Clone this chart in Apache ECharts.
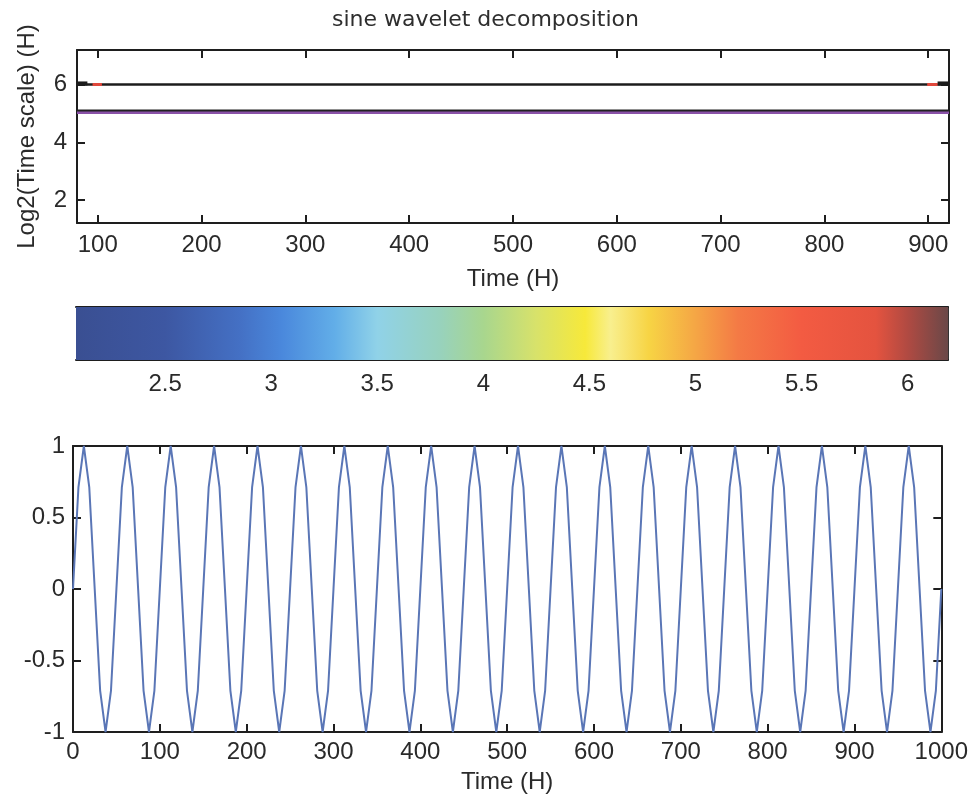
<!DOCTYPE html>
<html>
<head>
<meta charset="utf-8">
<script src="https://cdn.jsdelivr.net/npm/echarts@6/dist/echarts.min.js"></script>
<style>
html,body{margin:0;padding:0;background:#fff;}
#chart{width:971px;height:804px;}
</style>
</head>
<body>
<div id="chart"></div>
<script>
// ---------- data ----------
// top panel: wavelet decomposition ridges (time, log2 scale)
const ridgeTime = [80, 920];
const ridgeScaleHigh = [6.0, 6.0];
const ridgeScaleEdge = [5.1, 5.1];
const ridgeScaleLow = [5.03, 5.03];
const redTimeLeft = [95, 104];
const redTimeRight = [899, 909];
const redScale = [6.0, 6.0];
const darkTimeLeft = [80, 90];
const darkTimeRight = [909, 920];
const darkScale = [6.04, 6.04];
const topXTicks = [100, 200, 300, 400, 500, 600, 700, 800, 900];
const topYTicks = [2, 4, 6];

// colour bar
const cbarRange = [2.08, 6.19];
const cbarTicks = [2.5, 3, 3.5, 4, 4.5, 5, 5.5, 6];
const cbarStopValues = [2.08, 2.5, 2.85, 3.05, 3.3, 3.5, 3.8, 4.0, 4.25, 4.48, 4.6, 4.78, 5.0, 5.2, 5.5, 5.85, 6.0, 6.19];
const cbarStopColors = ['#3a4f92', '#3d57a2', '#4470c4', '#4a88dc', '#62aee8', '#90d2e8', '#98d2bc', '#a8d68e', '#d8e26a', '#f7e93a', '#f8ef8e', '#f7d444', '#f5a645', '#f47a45', '#f35b42', '#e4533f', '#b04a42', '#6a4848'];

// bottom panel: sine signal (time, amplitude)
const sineTime = [
0,6.25,12.5,18.75,25,31.25,37.5,43.75,
50,56.25,62.5,68.75,75,81.25,87.5,93.75,
100,106.25,112.5,118.75,125,131.25,137.5,143.75,
150,156.25,162.5,168.75,175,181.25,187.5,193.75,
200,206.25,212.5,218.75,225,231.25,237.5,243.75,
250,256.25,262.5,268.75,275,281.25,287.5,293.75,
300,306.25,312.5,318.75,325,331.25,337.5,343.75,
350,356.25,362.5,368.75,375,381.25,387.5,393.75,
400,406.25,412.5,418.75,425,431.25,437.5,443.75,
450,456.25,462.5,468.75,475,481.25,487.5,493.75,
500,506.25,512.5,518.75,525,531.25,537.5,543.75,
550,556.25,562.5,568.75,575,581.25,587.5,593.75,
600,606.25,612.5,618.75,625,631.25,637.5,643.75,
650,656.25,662.5,668.75,675,681.25,687.5,693.75,
700,706.25,712.5,718.75,725,731.25,737.5,743.75,
750,756.25,762.5,768.75,775,781.25,787.5,793.75,
800,806.25,812.5,818.75,825,831.25,837.5,843.75,
850,856.25,862.5,868.75,875,881.25,887.5,893.75,
900,906.25,912.5,918.75,925,931.25,937.5,943.75,
950,956.25,962.5,968.75,975,981.25,987.5,993.75,
1000];
const sineValue = [
0,0.71,1,0.71,0,-0.71,-1,-0.71,
0,0.71,1,0.71,0,-0.71,-1,-0.71,
0,0.71,1,0.71,0,-0.71,-1,-0.71,
0,0.71,1,0.71,0,-0.71,-1,-0.71,
0,0.71,1,0.71,0,-0.71,-1,-0.71,
0,0.71,1,0.71,0,-0.71,-1,-0.71,
0,0.71,1,0.71,0,-0.71,-1,-0.71,
0,0.71,1,0.71,0,-0.71,-1,-0.71,
0,0.71,1,0.71,0,-0.71,-1,-0.71,
0,0.71,1,0.71,0,-0.71,-1,-0.71,
0,0.71,1,0.71,0,-0.71,-1,-0.71,
0,0.71,1,0.71,0,-0.71,-1,-0.71,
0,0.71,1,0.71,0,-0.71,-1,-0.71,
0,0.71,1,0.71,0,-0.71,-1,-0.71,
0,0.71,1,0.71,0,-0.71,-1,-0.71,
0,0.71,1,0.71,0,-0.71,-1,-0.71,
0,0.71,1,0.71,0,-0.71,-1,-0.71,
0,0.71,1,0.71,0,-0.71,-1,-0.71,
0,0.71,1,0.71,0,-0.71,-1,-0.71,
0,0.71,1,0.71,0,-0.71,-1,-0.71,
0];
const bottomYTicks = [-1, -0.5, 0, 0.5, 1];

// ---------- chart ----------
const FONT = '"Liberation Sans", Arial, sans-serif';
const TXT = '#2a2a2a';
const AX = '#1e1e1e';
const zip = (a, b) => a.map((v, i) => [v, b[i]]);
const plain = (v) => String(v);

function boxAxis(opts) {
  return Object.assign({
    type: 'value',
    axisLine: { show: true, onZero: false, lineStyle: { color: AX, width: 2 } },
    axisTick: { show: true, inside: true, length: 8, lineStyle: { color: AX, width: 2 } },
    axisLabel: { show: false },
    splitLine: { show: false }
  }, opts);
}
const lbl = (extra) => Object.assign({ show: true, color: TXT, fontFamily: FONT, fontSize: 24, formatter: plain }, extra);

const chart = echarts.init(document.getElementById('chart'), null, { renderer: 'canvas' });

const option = {
  animation: false,
  backgroundColor: '#ffffff',
  title: {
    text: 'sine wavelet decomposition',
    left: 'center', top: 4,
    textStyle: { fontFamily: '"DejaVu Sans", sans-serif', fontSize: 22, fontWeight: 'normal', color: '#2e2e2e' }
  },
  grid: [
    { left: 77, top: 50, width: 872, height: 173 },
    { left: 76, top: 307, width: 872, height: 53 },
    { left: 73, top: 446, width: 871, height: 286 }
  ],
  xAxis: [
    boxAxis({ gridIndex: 0, position: 'bottom', min: 80, max: 920,
      axisTick: { show: true, inside: true, length: 8, customValues: topXTicks, lineStyle: { color: AX, width: 2 } },
      axisLabel: lbl({ margin: 10, customValues: topXTicks }),
      name: 'Time (H)', nameLocation: 'middle', nameGap: 44,
      nameTextStyle: { color: TXT, fontFamily: FONT, fontSize: 24 } }),
    boxAxis({ gridIndex: 0, position: 'top', min: 80, max: 920,
      axisTick: { show: true, inside: true, length: 8, customValues: topXTicks, lineStyle: { color: AX, width: 2 } } }),
    boxAxis({ gridIndex: 1, position: 'bottom', min: cbarRange[0], max: cbarRange[1],
      axisTick: { show: true, inside: true, length: 6, customValues: cbarTicks, lineStyle: { color: AX, width: 2 } },
      axisLabel: lbl({ margin: 12, customValues: cbarTicks }) }),
    boxAxis({ gridIndex: 1, position: 'top', min: cbarRange[0], max: cbarRange[1],
      axisTick: { show: true, inside: true, length: 6, customValues: cbarTicks, lineStyle: { color: AX, width: 2 } } }),
    boxAxis({ gridIndex: 2, position: 'bottom', min: 0, max: 1000, interval: 100,
      axisLabel: lbl({ margin: 8 }),
      name: 'Time (H)', nameLocation: 'middle', nameGap: 38,
      nameTextStyle: { color: TXT, fontFamily: FONT, fontSize: 24 } }),
    boxAxis({ gridIndex: 2, position: 'top', min: 0, max: 1000, interval: 100 })
  ],
  yAxis: [
    boxAxis({ gridIndex: 0, position: 'left', min: 1.2, max: 7.2,
      axisTick: { show: true, inside: true, length: 8, customValues: topYTicks, lineStyle: { color: AX, width: 2 } },
      axisLabel: lbl({ margin: 10, customValues: topYTicks }),
      name: 'Log2(Time scale) (H)', nameLocation: 'middle', nameGap: 38, nameRotate: 90,
      nameTextStyle: { color: TXT, fontFamily: FONT, fontSize: 24 } }),
    boxAxis({ gridIndex: 0, position: 'right', min: 1.2, max: 7.2,
      axisTick: { show: true, inside: true, length: 8, customValues: topYTicks, lineStyle: { color: AX, width: 2 } } }),
    boxAxis({ gridIndex: 1, position: 'left', min: 0, max: 1, axisTick: { show: false },
      axisLine: { show: true, onZero: false, lineStyle: { color: '#333', width: 1 } } }),
    boxAxis({ gridIndex: 1, position: 'right', min: 0, max: 1, axisTick: { show: false },
      axisLine: { show: true, onZero: false, lineStyle: { color: '#333', width: 1 } } }),
    boxAxis({ gridIndex: 2, position: 'left', min: -1, max: 1, interval: 0.5,
      axisLabel: lbl({ margin: 8 }) }),
    boxAxis({ gridIndex: 2, position: 'right', min: -1, max: 1, interval: 0.5 })
  ],
  series: [
    // top panel ridges
    { type: 'line', xAxisIndex: 0, yAxisIndex: 0, symbol: 'none', z: 3,
      data: zip(ridgeTime, ridgeScaleHigh), lineStyle: { color: '#1c1c1c', width: 2.5 } },
    { type: 'line', xAxisIndex: 0, yAxisIndex: 0, symbol: 'none', z: 3,
      data: zip(darkTimeLeft, darkScale), lineStyle: { color: '#1c1c1c', width: 4 } },
    { type: 'line', xAxisIndex: 0, yAxisIndex: 0, symbol: 'none', z: 3,
      data: zip(darkTimeRight, darkScale), lineStyle: { color: '#1c1c1c', width: 4 } },
    { type: 'line', xAxisIndex: 0, yAxisIndex: 0, symbol: 'none', z: 2,
      data: zip(ridgeTime, ridgeScaleLow), lineStyle: { color: '#8a52a8', width: 3 } },
    { type: 'line', xAxisIndex: 0, yAxisIndex: 0, symbol: 'none', z: 3,
      data: zip(ridgeTime, ridgeScaleEdge), lineStyle: { color: '#222', width: 2 } },
    { type: 'line', xAxisIndex: 0, yAxisIndex: 0, symbol: 'none', z: 4,
      data: zip(redTimeLeft, redScale), lineStyle: { color: '#e0483c', width: 3 } },
    { type: 'line', xAxisIndex: 0, yAxisIndex: 0, symbol: 'none', z: 4,
      data: zip(redTimeRight, redScale), lineStyle: { color: '#e0483c', width: 3 } },
    // colour bar
    { type: 'custom', xAxisIndex: 2, yAxisIndex: 2, z: 1,
      data: [[cbarRange[0], cbarRange[1]]],
      renderItem: function (params, api) {
        const p0 = api.coord([api.value(0), 1]);
        const p1 = api.coord([api.value(1), 0]);
        const span = cbarRange[1] - cbarRange[0];
        const stops = cbarStopValues.map((v, i) => ({ offset: (v - cbarRange[0]) / span, color: cbarStopColors[i] }));
        return {
          type: 'rect',
          shape: { x: p0[0], y: p0[1], width: p1[0] - p0[0], height: p1[1] - p0[1] },
          style: { fill: new echarts.graphic.LinearGradient(0, 0, 1, 0, stops) }
        };
      } },
    // bottom panel sine
    { type: 'line', xAxisIndex: 4, yAxisIndex: 4, symbol: 'none', z: 2,
      data: zip(sineTime, sineValue), lineStyle: { color: '#5a76b6', width: 2 } }
  ]
};
chart.setOption(option);
</script>
</body>
</html>
